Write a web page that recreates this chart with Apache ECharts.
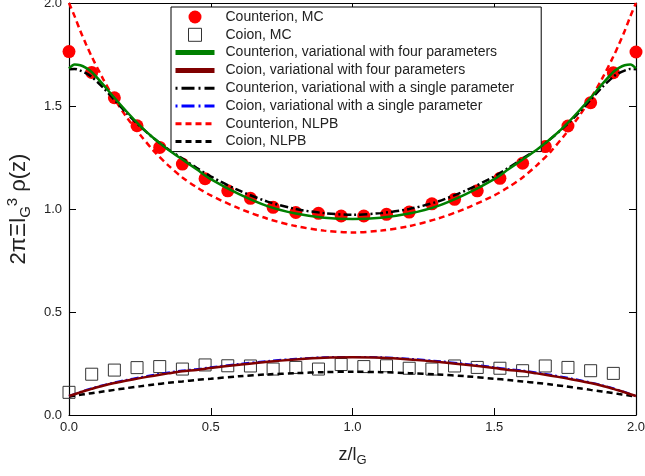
<!DOCTYPE html>
<html>
<head>
<meta charset="utf-8">
<script src="https://cdn.jsdelivr.net/npm/echarts@6/dist/echarts.min.js"></script>
<style>html,body{margin:0;padding:0;background:#fff}#c{width:645px;height:476px}</style>
</head>
<body>
<div id="c"></div>
<script>
// ---- data ----
const zMC = [0.00,0.08,0.16,0.24,0.32,0.40,0.48,0.56,0.64,0.72,0.80,0.88,0.96,1.04,1.12,1.20,1.28,1.36,1.44,1.52,1.60,1.68,1.76,1.84,1.92,2.00];
const counterMC = [1.764,1.663,1.540,1.404,1.299,1.218,1.147,1.088,1.052,1.008,0.983,0.979,0.966,0.966,0.974,0.985,1.025,1.047,1.088,1.149,1.222,1.303,1.403,1.516,1.662,1.762];
const zCoMC = [0.00,0.08,0.16,0.24,0.32,0.40,0.48,0.56,0.64,0.72,0.80,0.88,0.96,1.04,1.12,1.20,1.28,1.36,1.44,1.52,1.60,1.68,1.76,1.84,1.92];
const coionMC = [0.110,0.198,0.218,0.230,0.235,0.223,0.243,0.239,0.238,0.223,0.231,0.223,0.245,0.235,0.239,0.227,0.223,0.238,0.231,0.227,0.215,0.238,0.231,0.215,0.202];

const zCurve = [0,0.02,0.04,0.06,0.08,0.12,0.16,0.2,0.25,0.3,0.35,0.4,0.45,0.5,0.6,0.7,0.8,0.9,1.0,1.1,1.2,1.3,1.4,1.5,1.55,1.6,1.65,1.7,1.75,1.8,1.84,1.88,1.92,1.94,1.96,1.98,2.0];
const counterVar4 = [1.683,1.702,1.698,1.685,1.665,1.605,1.540,1.478,1.405,1.342,1.288,1.240,1.193,1.145,1.072,1.014,0.978,0.958,0.951,0.958,0.978,1.014,1.072,1.145,1.193,1.240,1.288,1.342,1.405,1.478,1.540,1.605,1.665,1.685,1.698,1.702,1.683];
const coionVar4 = [0.092,0.101,0.110,0.119,0.127,0.142,0.155,0.166,0.179,0.191,0.202,0.212,0.219,0.228,0.244,0.259,0.270,0.278,0.280,0.278,0.270,0.259,0.244,0.228,0.219,0.212,0.202,0.191,0.179,0.166,0.155,0.142,0.127,0.119,0.110,0.101,0.092];
const counterVar1 = [1.678,1.680,1.672,1.660,1.642,1.590,1.530,1.470,1.402,1.342,1.290,1.245,1.200,1.158,1.090,1.036,1.000,0.980,0.972,0.980,1.000,1.036,1.090,1.158,1.200,1.245,1.290,1.342,1.402,1.470,1.530,1.590,1.642,1.660,1.672,1.680,1.678];
const coionVar1 = [0.092,0.102,0.112,0.121,0.130,0.145,0.158,0.170,0.183,0.195,0.206,0.216,0.223,0.232,0.248,0.262,0.273,0.280,0.282,0.280,0.273,0.262,0.248,0.232,0.223,0.216,0.206,0.195,0.183,0.170,0.158,0.145,0.130,0.121,0.112,0.102,0.092];
const counterNLPB = [2.000,1.935,1.864,1.800,1.740,1.632,1.536,1.452,1.362,1.280,1.212,1.153,1.106,1.066,1.003,0.953,0.917,0.895,0.886,0.895,0.917,0.953,1.003,1.066,1.106,1.153,1.212,1.280,1.362,1.452,1.536,1.632,1.740,1.800,1.864,1.935,2.000];
const coionNLPB = [0.089,0.093,0.098,0.102,0.106,0.114,0.122,0.130,0.139,0.148,0.156,0.163,0.170,0.176,0.188,0.197,0.203,0.208,0.210,0.208,0.203,0.197,0.188,0.176,0.170,0.163,0.156,0.148,0.139,0.130,0.122,0.114,0.106,0.102,0.098,0.093,0.089];

const names = [
  'Counterion, MC',
  'Coion, MC',
  'Counterion, variational with four parameters',
  'Coion, variational with four parameters',
  'Counterion, variational with a single parameter',
  'Coion, variational with a single parameter',
  'Counterion, NLPB',
  'Coion, NLPB'
];

const FONT = '"Liberation Sans", Arial, Helvetica, sans-serif';
const pair = (xs, ys) => ys.map((v, i) => [xs[i], v]);

const chart = echarts.init(document.getElementById('c'), null, {renderer: 'canvas'});

function lineSeries(name, ys, color, width, type, z) {
  return {
    name, type: 'line', data: pair(zCurve, ys), symbol: 'none', showSymbol: false,
    smooth: 0.3, z: z, animation: false,
    lineStyle: {color, width, type},
    itemStyle: {color}
  };
}

const dashDot = [8, 3, 2, 3];
const dash = [6, 4];

const legendLine = (name, color, width, type) => ({
  name, itemStyle: {opacity: 0}, lineStyle: {color, width, type}
});

const axisCommon = {
  type: 'value', min: 0, max: 2, interval: 0.5,
  splitLine: {show: false},
  axisLine: {onZero: false, lineStyle: {color: '#000', width: 1.2}},
  axisTick: {inside: true, length: 7, lineStyle: {color: '#000', width: 1}}
};

chart.setOption({
  animation: false,
  backgroundColor: '#fff',
  grid: {left: 69, right: 9, top: 3, bottom: 61, containLabel: false, outerBoundsMode: 'none'},
  xAxis: [
    Object.assign({}, axisCommon, {
      position: 'bottom',
      axisLabel: {formatter: v => v.toFixed(1), color: '#222', fontSize: 13, fontFamily: FONT, margin: 6},
      name: '{a|z/l}{s|G}', nameLocation: 'middle', nameGap: 28,
      nameTextStyle: {rich: {
        a: {fontSize: 18, fontFamily: FONT, color: '#222', lineHeight: 24, verticalAlign: 'middle'},
        s: {fontSize: 13, fontFamily: FONT, color: '#222', lineHeight: 12, verticalAlign: 'bottom'}
      }}
    }),
    Object.assign({}, axisCommon, {position: 'top', axisLabel: {show: false}})
  ],
  yAxis: [
    Object.assign({}, axisCommon, {
      position: 'left',
      axisLabel: {formatter: v => v.toFixed(1), color: '#222', fontSize: 13, fontFamily: FONT, margin: 7},
      name: '{a|2πΞl}{s|G}{p|3}{a| ρ(z)}', nameLocation: 'middle', nameGap: 33, nameRotate: 90,
      nameTextStyle: {rich: {
        a: {fontSize: 22, fontFamily: FONT, color: '#222', lineHeight: 28, verticalAlign: 'middle'},
        s: {fontSize: 15, fontFamily: FONT, color: '#222', lineHeight: 14, verticalAlign: 'bottom'},
        p: {fontSize: 15, fontFamily: FONT, color: '#222', lineHeight: 14, verticalAlign: 'top'}
      }}
    }),
    Object.assign({}, axisCommon, {position: 'right', axisLabel: {show: false}})
  ],
  legend: {
    orient: 'vertical', left: 171, top: 7,
    itemWidth: 39, itemHeight: 13, itemGap: 3.8,
    padding: [3, 27, 3, 2],
    borderColor: '#000', borderWidth: 1, backgroundColor: '#fff',
    selectedMode: false, symbolKeepAspect: true,
    formatter: n => '{g|}' + n,
    textStyle: {fontSize: 14, color: '#222', fontFamily: FONT, rich: {g: {width: 6}}},
    data: [
      {name: names[0], itemStyle: {opacity: 1}},
      {name: names[1], icon: 'path://M0,0L10,0L10,10L0,10Z',
        itemStyle: {color: 'rgba(255,255,255,0)', borderColor: '#333', borderWidth: 1}},
      legendLine(names[2], '#008000', 5, 'solid'),
      legendLine(names[3], '#800000', 5, 'solid'),
      legendLine(names[4], '#000', 3, [2, 4, 13, 4]),
      legendLine(names[5], '#0000ff', 3, [2, 4, 13, 4]),
      legendLine(names[6], '#ff0000', 3, dash),
      legendLine(names[7], '#000', 3, dash)
    ]
  },
  series: [
    {name: names[0], type: 'scatter', data: pair(zMC, counterMC), symbol: 'circle', symbolSize: 13,
      itemStyle: {color: '#ff0000', opacity: 1}, z: 2, animation: false},
    {name: names[1], type: 'scatter', data: pair(zCoMC, coionMC), symbol: 'rect', symbolSize: 12,
      itemStyle: {color: 'rgba(255,255,255,0)', borderColor: '#333', borderWidth: 1, opacity: 1}, z: 2, animation: false},
    lineSeries(names[7], coionNLPB, '#000', 2.5, dash, 3),
    lineSeries(names[5], coionVar1, '#0000ff', 2, dashDot, 3),
    lineSeries(names[3], coionVar4, '#800000', 2.5, 'solid', 4),
    lineSeries(names[6], counterNLPB, '#ff0000', 2.5, dash, 3),
    lineSeries(names[4], counterVar1, '#000', 2.5, dashDot, 3),
    lineSeries(names[2], counterVar4, '#008000', 2.5, 'solid', 4)
  ]
});
</script>
</body>
</html>
